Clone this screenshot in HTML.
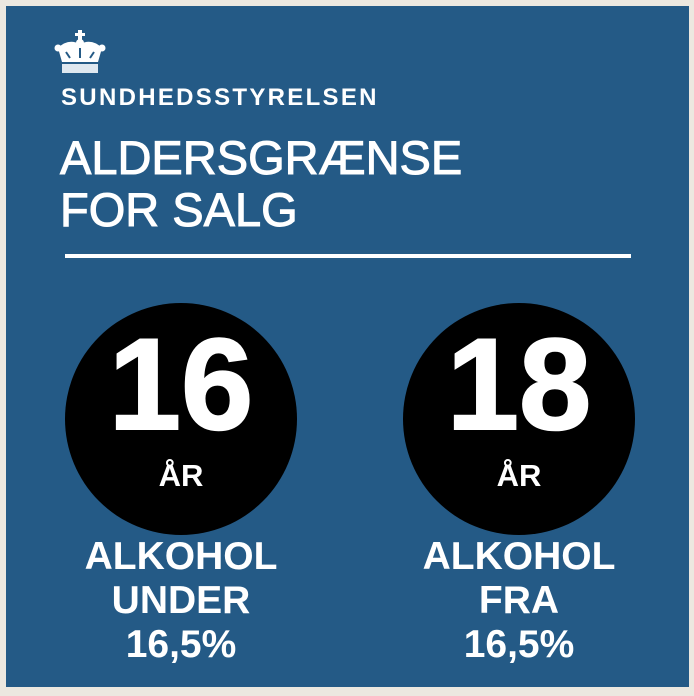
<!DOCTYPE html>
<html><head><meta charset="utf-8"><style>
body{margin:0;width:694px;height:696px;background:#ece8e0;overflow:hidden;font-family:"Liberation Sans",sans-serif}
#panel{position:absolute;left:6px;top:6px;width:683px;height:681px;background:#245a86}
.t{position:absolute;color:#fff;font-weight:bold;white-space:nowrap}
.c{position:absolute;width:232px;height:232px;border-radius:50%;background:#000}
.lab{position:absolute;width:300px;text-align:center;color:#fff;font-weight:bold}
</style></head><body>
<div id="panel"></div>
<svg style="position:absolute;left:54px;top:30px" width="52" height="44" viewBox="0 0 52 44">
<rect x="24" y="0" width="4" height="10" fill="#fff"/><rect x="21" y="3" width="10" height="3" fill="#fff"/>
<path d="M4 18 Q14 8 26 14 Q38 8 48 18 L44 32 L8 32 Z" fill="#fff"/>
<circle cx="4" cy="18" r="3.5" fill="#fff"/><circle cx="48" cy="18" r="3.5" fill="#fff"/><circle cx="26" cy="13" r="4" fill="#fff"/>
<path d="M12 22 L16 28 M26 18 L26 28 M40 22 L36 28" stroke="#245a86" stroke-width="2"/>
<rect x="8" y="34" width="36" height="9" fill="#dfe8f0"/>
</svg>
<div class="t" style="left:61px;top:84px;font-size:24px;letter-spacing:2.3px">SUNDHEDSSTYRELSEN</div>
<div class="t" style="left:60px;top:132px;font-size:47px;line-height:52px;font-weight:normal;-webkit-text-stroke:1px #fff">ALDERSGRÆNSE<br>FOR SALG</div>
<div style="position:absolute;left:65px;top:254px;width:566px;height:4px;background:#fff"></div>
<div class="c" style="left:65px;top:303px"></div>
<div class="c" style="left:403px;top:303px"></div>
<div class="lab" style="left:31px;top:314px;font-size:130px;line-height:140px;-webkit-text-stroke:2px #fff">16</div>
<div class="lab" style="left:369px;top:314px;font-size:130px;line-height:140px;-webkit-text-stroke:2px #fff">18</div>
<div class="lab" style="left:31px;top:458px;font-size:31px">ÅR</div>
<div class="lab" style="left:369px;top:458px;font-size:31px">ÅR</div>
<div class="lab" style="left:31px;top:535px;font-size:39px;line-height:44px">ALKOHOL<br>UNDER<br>16,5%</div>
<div class="lab" style="left:369px;top:535px;font-size:39px;line-height:44px">ALKOHOL<br>FRA<br>16,5%</div>
</body></html>
